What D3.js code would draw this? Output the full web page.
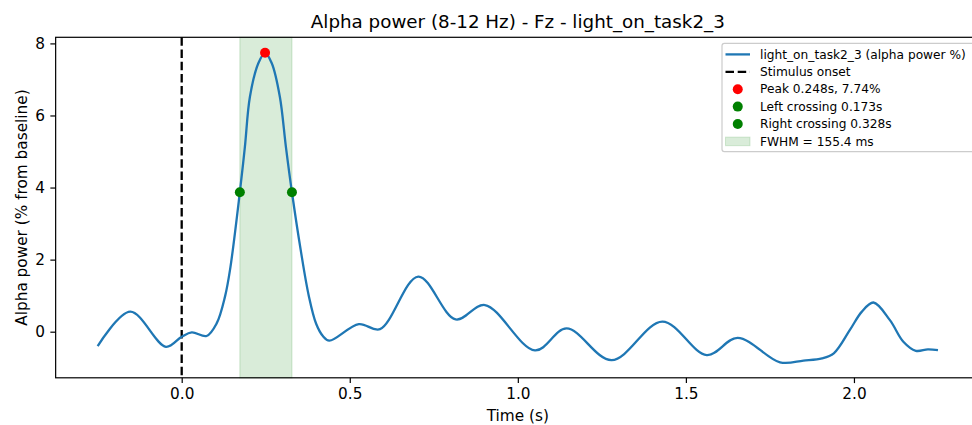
<!DOCTYPE html>
<html>
<head>
<meta charset="utf-8">
<script src="https://cdn.jsdelivr.net/npm/d3@7"></script>
<style>
  body { margin: 0; background: #fff; }
  svg { display: block; font-family: "DejaVu Sans", sans-serif; }
</style>
</head>
<body>
<svg id="chart" width="972" height="425"></svg>
<script>
// alpha power trace (% from baseline)
const times = [-0.25, -0.153, -0.047, 0.0, 0.030, 0.074, 0.104, 0.129, 0.144, 0.173, 0.188, 0.203, 0.228, 0.248,
  0.268, 0.292, 0.310, 0.328, 0.354, 0.378, 0.400, 0.420, 0.439, 0.527, 0.590, 0.704, 0.815, 0.902, 1.051, 1.145,
  1.279, 1.430, 1.562, 1.654, 1.780, 1.850, 1.905, 1.940, 1.988, 2.023, 2.058, 2.107, 2.147, 2.184, 2.220, 2.250];
const power = [-0.40, 0.555, -0.42, -0.14, -0.02, -0.12, 0.23, 0.98, 1.73, 3.87, 5.13, 6.52, 7.45, 7.74,
  7.45, 6.52, 5.13, 3.87, 2.27, 1.00, 0.22, -0.12, -0.25, 0.21, 0.07, 1.53, 0.34, 0.74, -0.52, 0.09,
  -0.79, 0.28, -0.65, -0.17, -0.85, -0.80, -0.74, -0.60, 0.05, 0.55, 0.81, 0.32, -0.28, -0.53, -0.49, -0.51];

const peak = [0.248, 7.74];
const crossings = [[0.173, 3.87], [0.328, 3.87]];
const stimulusOnset = 0;

const xTicks = [0, 0.5, 1.0, 1.5, 2.0];
const yTicks = [0, 2, 4, 6, 8];
const legendLabels = ["light_on_task2_3 (alpha power %)", "Stimulus onset", "Peak 0.248s, 7.74%",
  "Left crossing 0.173s", "Right crossing 0.328s", "FWHM = 155.4 ms"];
const title = "Alpha power (8-12 Hz) - Fz - light_on_task2_3";

const svg = d3.select("#chart");
const margin = { top: 37.3, right: 980, bottom: 377.8, left: 55.65 }; // axes box edges in px

// matplotlib style 5% padding around the data
const xPad = (d3.max(times) - d3.min(times)) * 0.05;
const yPad = (d3.max(power) - d3.min(power)) * 0.05;
const x = d3.scaleLinear()
  .domain([d3.min(times) - xPad, d3.max(times) + xPad])
  .range([margin.left, margin.right]);
const y = d3.scaleLinear()
  .domain([d3.min(power) - yPad, d3.max(power) + yPad])
  .range([margin.bottom, margin.top]);

// FWHM band
svg.append("rect")
  .attr("x", x(crossings[0][0]))
  .attr("y", margin.top)
  .attr("width", x(crossings[1][0]) - x(crossings[0][0]))
  .attr("height", margin.bottom - margin.top)
  .attr("fill", "green").attr("fill-opacity", 0.15)
  .attr("stroke", "green").attr("stroke-opacity", 0.15).attr("stroke-width", 1.2);

// stimulus onset
svg.append("line")
  .attr("x1", x(stimulusOnset)).attr("x2", x(stimulusOnset))
  .attr("y1", margin.top).attr("y2", margin.bottom)
  .attr("stroke", "black").attr("stroke-width", 2.3)
  .attr("stroke-dasharray", "8.5,3.7");

const line = d3.line()
  .x((d, i) => x(times[i]))
  .y(d => y(d))
  .curve(d3.curveCatmullRom.alpha(0.5));

svg.append("path")
  .datum(power)
  .attr("d", line)
  .attr("fill", "none")
  .attr("stroke", "#1f77b4")
  .attr("stroke-width", 2.3)
  .attr("stroke-linejoin", "round");

svg.append("circle")
  .attr("cx", x(peak[0])).attr("cy", y(peak[1]))
  .attr("r", 5).attr("fill", "red");

svg.selectAll(".cross")
  .data(crossings)
  .enter().append("circle")
  .attr("cx", d => x(d[0])).attr("cy", d => y(d[1]))
  .attr("r", 5).attr("fill", "green");

// axes
const xAxis = svg.append("g")
  .attr("transform", `translate(0,${margin.bottom})`)
  .call(d3.axisBottom(x).tickValues(xTicks).tickFormat(d3.format(".1f"))
    .tickSize(5.3).tickPadding(5.3).tickSizeOuter(0));
const yAxis = svg.append("g")
  .attr("transform", `translate(${margin.left},0)`)
  .call(d3.axisLeft(y).tickValues(yTicks).tickFormat(d3.format("d"))
    .tickSize(5.3).tickPadding(5.3).tickSizeOuter(0));

[xAxis, yAxis].forEach(g => {
  g.select(".domain").remove();
  g.selectAll(".tick line").attr("stroke", "black").attr("stroke-width", 1.2);
  g.selectAll(".tick text").attr("fill", "black").style("font-size", "15.3px")
    .style("font-family", "DejaVu Sans");
});

// spines
svg.append("rect")
  .attr("x", margin.left).attr("y", margin.top)
  .attr("width", margin.right - margin.left).attr("height", margin.bottom - margin.top)
  .attr("fill", "none").attr("stroke", "black").attr("stroke-width", 1.2);

svg.append("text")
  .attr("x", (margin.left + margin.right) / 2).attr("y", 28)
  .attr("text-anchor", "middle").style("font-size", "18.3px")
  .text(title);

svg.append("text")
  .attr("x", (margin.left + margin.right) / 2).attr("y", 421)
  .attr("text-anchor", "middle").style("font-size", "15.3px")
  .text("Time (s)");

svg.append("text")
  .attr("transform", `translate(26.5,${(margin.top + margin.bottom) / 2}) rotate(-90)`)
  .attr("text-anchor", "middle").style("font-size", "15.3px")
  .text("Alpha power (% from baseline)");

// legend
const leg = svg.append("g").attr("transform", "translate(722,43.4)");
leg.append("rect")
  .attr("width", 252).attr("height", 108.3).attr("rx", 2.4)
  .attr("fill", "white").attr("fill-opacity", 0.8)
  .attr("stroke", "#cccccc").attr("stroke-width", 1.2);

const rowY = i => 11 + i * 17.4;
const hx0 = 3.5, hx1 = 28;
legendLabels.forEach((label, i) => {
  const row = leg.append("g").attr("transform", `translate(0,${rowY(i)})`);
  if (i === 0) {
    row.append("line").attr("x1", hx0).attr("x2", hx1).attr("stroke", "#1f77b4").attr("stroke-width", 2.3);
  } else if (i === 1) {
    row.append("line").attr("x1", hx0).attr("x2", hx1).attr("stroke", "black").attr("stroke-width", 2.3)
      .attr("stroke-dasharray", "8.5,3.7");
  } else if (i < 5) {
    row.append("circle").attr("cx", (hx0 + hx1) / 2).attr("r", 5).attr("fill", i === 2 ? "red" : "green");
  } else {
    row.append("rect").attr("x", hx0).attr("y", -4.3).attr("width", hx1 - hx0).attr("height", 8.6)
      .attr("fill", "green").attr("fill-opacity", 0.15)
      .attr("stroke", "green").attr("stroke-opacity", 0.15);
  }
  row.append("text").attr("x", 38).attr("dy", "0.35em")
    .style("font-size", "12.2px").text(label);
});
</script>
</body>
</html>
